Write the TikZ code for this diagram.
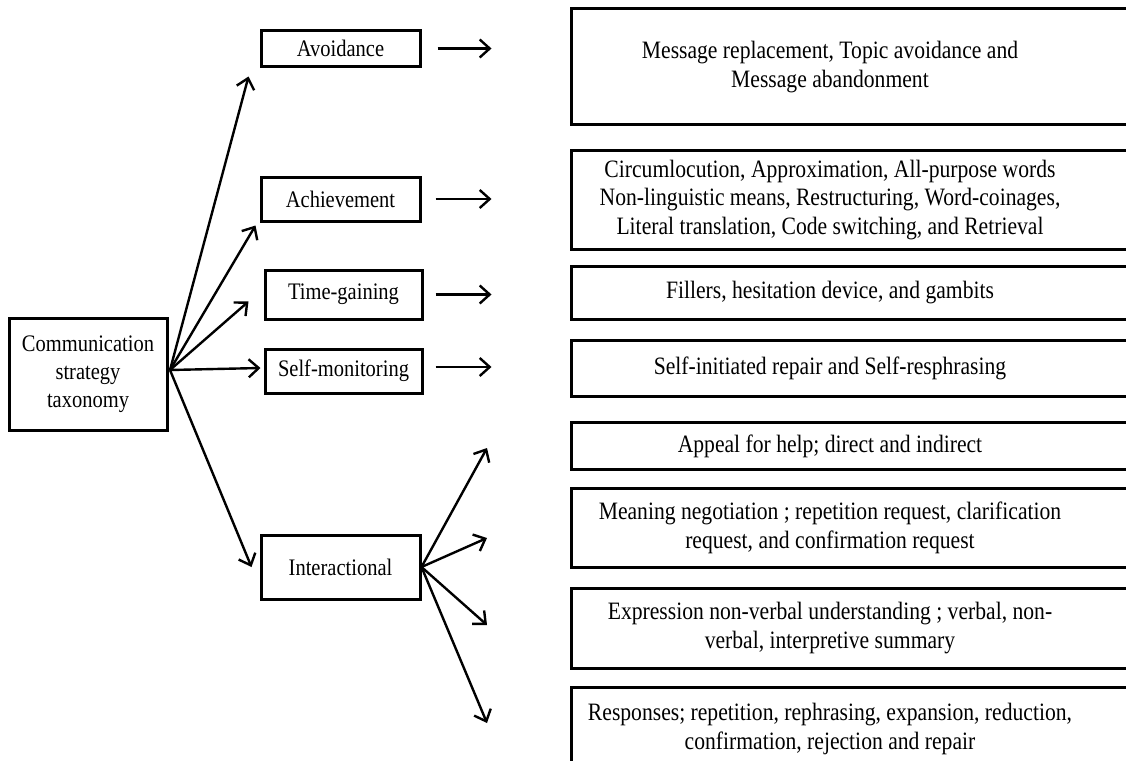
\documentclass[tikz,border=0pt]{standalone}
\usepackage{fontspec}
\setmainfont[FakeStretch=0.865]{Liberation Serif}
\usetikzlibrary{arrows.meta}
\begin{document}
\begin{tikzpicture}[x=1pt,y=-1pt,
  txt/.style={font=\fontsize{25}{28.5}\selectfont, align=center, inner sep=0pt},
  box/.style={txt, font=\fontsize{23.7}{28}\selectfont, draw, line width=3pt},
  frame/.style={line width=3pt},
  arr/.style={-{Straight Barb[length=10pt,width=18pt,line width=2.4pt]}, line width=2.4pt}]
\clip (0,0) rectangle (1126,760);
\node[box, minimum width=158pt, minimum height=112pt] (root) at (88,374) {Communication\\strategy\\taxonomy};
\node[box, minimum width=159pt, minimum height=35pt] (avoid) at (340.5,48.5) {Avoidance};
\node[box, minimum width=159pt, minimum height=44pt] (achieve) at (340.5,199) {Achievement};
\node[box, minimum width=157pt, minimum height=49pt] (time) at (343.5,294.5) {Time-gaining};
\node[box, minimum width=157pt, minimum height=44pt] (selfmon) at (343.5,371) {Self-monitoring};
\node[box, minimum width=159pt, minimum height=64pt] (inter) at (340.5,567) {Interactional};
\draw[frame] (571,9) rectangle (1140,124);
\draw[frame] (571,150) rectangle (1140,249);
\draw[frame] (571,266) rectangle (1140,319);
\draw[frame] (571,340) rectangle (1140,396);
\draw[frame] (571,422) rectangle (1140,469);
\draw[frame] (571,488) rectangle (1140,567);
\draw[frame] (571,588) rectangle (1140,668);
\draw[frame] (571,687) rectangle (1140,780);
\node[txt] (msg) at (830,67) {Message replacement, Topic avoidance and\\Message abandonment};
\node[txt] (circ) at (830,200) {Circumlocution, Approximation, All-purpose words\\Non-linguistic means, Restructuring, Word-coinages,\\Literal translation, Code switching, and Retrieval};
\node[txt] (fill) at (830,293) {Fillers, hesitation device, and gambits};
\node[txt] (selfrep) at (830,368) {Self-initiated repair and Self-resphrasing};
\node[txt] (appeal) at (830,446) {Appeal for help; direct and indirect};
\node[txt] (mean) at (830,528) {Meaning negotiation ; repetition request, clarification\\request, and confirmation request};
\node[txt] (expr) at (830,628) {Expression non-verbal understanding ; verbal, non-\\verbal, interpretive summary};
\node[txt] (resp) at (830,729) {Responses; repetition, rephrasing, expansion, reduction,\\confirmation, rejection and repair};
\coordinate (hub) at (170,370);
\draw[arr] (hub) -- ([xshift=-11pt,yshift=-9pt]avoid.south west);
\draw[arr] (hub) -- ([xshift=-4pt,yshift=-3pt]achieve.south west);
\draw[arr] (hub) -- ([xshift=-15pt,yshift=-7pt]time.west);
\draw[arr] (hub) -- ([xshift=-3pt,yshift=3pt]selfmon.west);
\draw[arr] (hub) -- ([xshift=-8pt]inter.west);
\draw[arr] ([xshift=16pt]avoid.east) -- ([xshift=70pt]avoid.east);
\draw[arr] ([xshift=14pt]achieve.east) -- ([xshift=70pt]achieve.east);
\draw[arr] ([xshift=12pt]time.east) -- ([xshift=68pt]time.east);
\draw[arr] ([xshift=12pt,yshift=4pt]selfmon.east) -- ([xshift=68pt,yshift=4pt]selfmon.east);
\draw[arr] (inter.east) -- (487,448);
\draw[arr] (inter.east) -- (487,538);
\draw[arr] (inter.east) -- (487,625);
\draw[arr] (inter.east) -- (487,723);
\end{tikzpicture}
\end{document}
